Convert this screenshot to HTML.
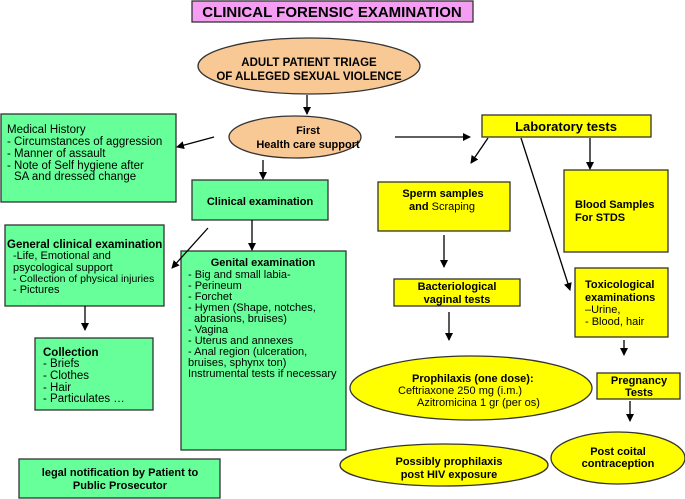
<!DOCTYPE html>
<html><head><meta charset="utf-8"><style>
body{margin:0;background:#fff}
svg{display:block;font-family:"Liberation Sans",Arial,sans-serif}
.b{font-weight:bold}
</style></head><body>
<svg width="685" height="499" viewBox="0 0 685 499" xmlns="http://www.w3.org/2000/svg">
<defs><marker id="a" markerWidth="8" markerHeight="8" refX="7" refY="4" orient="auto" markerUnits="userSpaceOnUse"><path d="M0,0 L8,4 L0,8 z" fill="#000"/></marker></defs>
<g stroke="#333" stroke-width="1.3">
<rect x="192" y="1" width="281" height="21" fill="#f59cf3"/>
<ellipse cx="309" cy="66" rx="111" ry="28" fill="#f9c995"/>
<ellipse cx="295" cy="137" rx="66" ry="21" fill="#f9c995"/>
<rect x="1" y="114" width="175" height="88" fill="#66ff99"/>
<rect x="192" y="180" width="136" height="40" fill="#66ff99"/>
<rect x="5" y="225" width="159" height="81" fill="#66ff99"/>
<rect x="35" y="338" width="118" height="72" fill="#66ff99"/>
<rect x="181" y="251" width="165" height="199" fill="#66ff99"/>
<rect x="19" y="459" width="201" height="39" fill="#66ff99"/>
<rect x="482" y="115" width="169" height="22" fill="#ffff00"/>
<rect x="378" y="182" width="132" height="49" fill="#ffff00"/>
<rect x="564" y="170" width="104" height="82" fill="#ffff00"/>
<rect x="394" y="279" width="126" height="27" fill="#ffff00"/>
<rect x="575" y="268" width="93" height="69" fill="#ffff00"/>
<rect x="597" y="373" width="83" height="26" fill="#ffff00"/>
<ellipse cx="471" cy="388" rx="121" ry="32" fill="#ffff00"/>
<ellipse cx="444" cy="465" rx="104" ry="21" fill="#ffff00"/>
<ellipse cx="618" cy="458" rx="67" ry="26" fill="#ffff00"/>
</g>
<g stroke="#000" stroke-width="1.3" marker-end="url(#a)">
<line x1="307" y1="95" x2="307" y2="114"/>
<line x1="214" y1="137" x2="177" y2="147"/>
<line x1="263" y1="160" x2="263" y2="179"/>
<line x1="208" y1="228" x2="172" y2="268"/>
<line x1="252" y1="220" x2="252" y2="250"/>
<line x1="85" y1="306" x2="85" y2="330"/>
<line x1="395" y1="137" x2="470" y2="137"/>
<line x1="488" y1="138" x2="471" y2="163"/>
<line x1="590" y1="138" x2="590" y2="169"/>
<line x1="521" y1="138" x2="570" y2="290"/>
<line x1="444" y1="235" x2="444" y2="267"/>
<line x1="449" y1="312" x2="449" y2="340"/>
<line x1="624" y1="340" x2="624" y2="355"/>
<line x1="630" y1="401" x2="630" y2="421"/>
</g>
<g font-size="11" fill="#000">
<text x="332" y="17" text-anchor="middle" class="b" font-size="15">CLINICAL FORENSIC EXAMINATION</text>
<text x="309" y="66" text-anchor="middle" class="b" font-size="11.5">ADULT PATIENT TRIAGE</text>
<text x="309" y="80" text-anchor="middle" class="b" font-size="11.5">OF ALLEGED SEXUAL VIOLENCE</text>
<text x="308" y="134" text-anchor="middle" class="b">First</text>
<text x="308" y="148" text-anchor="middle" class="b">Health care support</text>
<g font-size="11.5">
<text x="7" y="133">Medical History</text>
<text x="7" y="145">- Circumstances of aggression</text>
<text x="7" y="157">- Manner of assault</text>
<text x="7" y="169">- Note of Self  hygiene after</text>
<text x="14" y="180">SA and dressed change</text>
</g>
<text x="260" y="205" text-anchor="middle" class="b">Clinical examination</text>
<text x="7" y="248" class="b" font-size="11.5">General clinical examination</text>
<text x="13" y="259">-Life, Emotional and</text>
<text x="13" y="271">psycological  support</text>
<text x="13" y="282" font-size="10.5">- Collection of physical  injuries</text>
<text x="13" y="293">- Pictures</text>
<g font-size="11.5">
<text x="43" y="356" class="b">Collection</text>
<text x="43" y="367">- Briefs</text>
<text x="43" y="379">- Clothes</text>
<text x="43" y="391">- Hair</text>
<text x="43" y="402">- Particulates …</text>
</g>
<g font-size="11">
<text x="263" y="266" text-anchor="middle" class="b">Genital examination</text>
<text x="188" y="278">-    Big and small labia-</text>
<text x="188" y="289">-    Perineum</text>
<text x="188" y="300">-    Forchet</text>
<text x="188" y="311">-    Hymen (Shape, notches,</text>
<text x="194" y="322">abrasions, bruises)</text>
<text x="188" y="333">- Vagina</text>
<text x="188" y="344">- Uterus and annexes</text>
<text x="188" y="355">- Anal region (ulceration,</text>
<text x="188" y="366">bruises, sphynx ton)</text>
<text x="188" y="377">Instrumental tests if necessary</text>
</g>
<text x="120" y="476" text-anchor="middle" class="b">legal notification by Patient  to</text>
<text x="120" y="489" text-anchor="middle" class="b">Public Prosecutor</text>
<text x="566" y="131" text-anchor="middle" class="b" font-size="13">Laboratory tests</text>
<text x="443" y="197" text-anchor="middle" class="b">Sperm samples</text>
<text x="409" y="210" class="b">and <tspan font-weight="normal">Scraping</tspan></text>
<text x="575" y="208" class="b">Blood Samples</text>
<text x="575" y="221" class="b">For STDS</text>
<text x="457" y="290" text-anchor="middle" class="b">Bacteriological</text>
<text x="457" y="303" text-anchor="middle" class="b">vaginal tests</text>
<text x="585" y="288" class="b">Toxicological</text>
<text x="585" y="301" class="b">examinations</text>
<text x="585" y="313">–Urine,</text>
<text x="585" y="325">- Blood,  hair</text>
<text x="639" y="384" text-anchor="middle" class="b">Pregnancy</text>
<text x="639" y="396" text-anchor="middle" class="b">Tests</text>
<text x="412" y="382" class="b">Prophilaxis (one dose):</text>
<text x="398" y="394">Ceftriaxone 250 mg (i.m.)</text>
<text x="417" y="406">Azitromicina 1 gr (per os)</text>
<text x="449" y="465" text-anchor="middle" class="b">Possibly prophilaxis</text>
<text x="449" y="478" text-anchor="middle" class="b">post HIV exposure</text>
<text x="618" y="455" text-anchor="middle" class="b">Post coital</text>
<text x="618" y="467" text-anchor="middle" class="b">contraception</text>
</g>
</svg>
</body></html>
